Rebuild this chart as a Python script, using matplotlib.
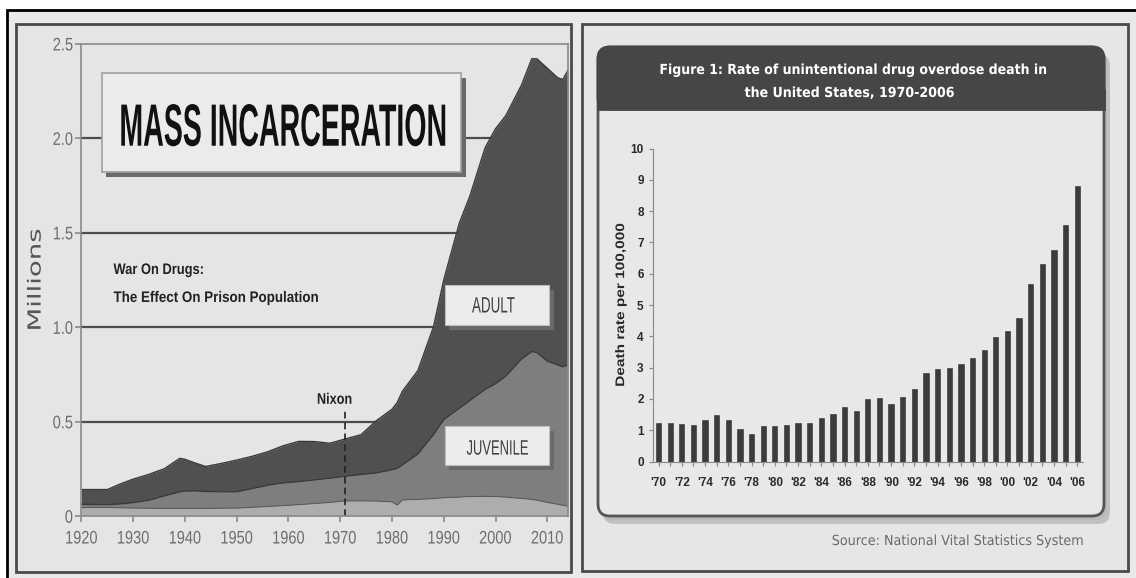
import numpy as np
import matplotlib
matplotlib.use("Agg")
import matplotlib.pyplot as plt
from matplotlib.patches import Rectangle, FancyBboxPatch
from matplotlib.transforms import IdentityTransform, Affine2D
import matplotlib.patheffects as pe

# ---- left chart: prison population (millions), boundaries of the stacked layers
years = [1920, 1925, 1928, 1930, 1933, 1936, 1939, 1940, 1942, 1944, 1947, 1950, 1953,
         1956, 1959, 1962, 1965, 1968, 1971, 1974, 1977, 1980, 1981, 1982, 1985, 1988,
         1990, 1993, 1995, 1998, 2000, 2002, 2005, 2007, 2008, 2010, 2012, 2013, 2014]
total = [0.14, 0.14, 0.175, 0.195, 0.22, 0.25, 0.305, 0.30, 0.28, 0.262, 0.278, 0.296, 0.316,
         0.34, 0.372, 0.395, 0.394, 0.385, 0.408, 0.43, 0.505, 0.565, 0.60, 0.66, 0.77, 1.0,
         1.25, 1.55, 1.69, 1.95, 2.05, 2.12, 2.28, 2.42, 2.42, 2.37, 2.32, 2.31, 2.36]
middle = [0.062, 0.06, 0.065, 0.071, 0.083, 0.106, 0.128, 0.132, 0.133, 0.13, 0.128, 0.128, 0.145,
          0.163, 0.175, 0.182, 0.191, 0.2, 0.21, 0.22, 0.228, 0.245, 0.252, 0.27, 0.328, 0.43,
          0.51, 0.57, 0.61, 0.67, 0.70, 0.74, 0.83, 0.87, 0.865, 0.82, 0.80, 0.79, 0.80]
lower = [0.045, 0.045, 0.043, 0.042, 0.041, 0.04, 0.04, 0.04, 0.04, 0.04, 0.041, 0.042, 0.046,
         0.05, 0.055, 0.06, 0.066, 0.072, 0.08, 0.08, 0.079, 0.075, 0.058, 0.085, 0.088, 0.092,
         0.097, 0.1, 0.103, 0.104, 0.103, 0.1, 0.093, 0.088, 0.084, 0.072, 0.062, 0.057, 0.052]
nixon_year = 1971
decade_ticks = [1920, 1930, 1940, 1950, 1960, 1970, 1980, 1990, 2000, 2010]
million_ticks = [0, 0.5, 1.0, 1.5, 2.0, 2.5]
million_labels = ["0", "0.5", "1.0", "1.5", "2.0", "2.5"]

# ---- right chart: overdose death rate per 100,000
od_years = list(range(1970, 2007))
od_rates = [1.24, 1.24, 1.2, 1.16, 1.32, 1.47, 1.34, 1.04, 0.88, 1.14, 1.12, 1.16, 1.24,
            1.24, 1.39, 1.52, 1.74, 1.62, 1.99, 2.04, 1.83, 2.07, 2.33, 2.84, 2.96, 2.99,
            3.12, 3.32, 3.56, 3.99, 4.18, 4.57, 5.68, 6.3, 6.77, 7.56, 8.81]

W, H = 1136, 578
SANS = "Liberation Sans"


class Stretch(pe.AbstractPathEffect):
    """Make glyphs taller (condensed look) without touching their advance widths."""

    def __init__(self, sy=1.0, about="middle"):
        super().__init__()
        self.sy = sy
        self.about = about

    def draw_path(self, renderer, gc, tpath, affine, rgbFace=None):
        if self.about == "baseline":
            cy = 0.0
        else:
            ext = tpath.get_extents()
            cy = (ext.y0 + ext.y1) / 2
        st = Affine2D().translate(0, -cy).scale(1, self.sy).translate(0, cy)
        renderer.draw_path(gc, tpath, st + affine, rgbFace)


fig = plt.figure(figsize=(W / 100, H / 100), dpi=100, facecolor="white")


def px_rect(x0, y0, x1, y1):
    # pixel box given from the top-left corner
    return x0, H - y1, x1 - x0, y1 - y0


def fig_box(x0, y0, x1, y1, **kw):
    x, y, w, h = px_rect(x0, y0, x1, y1)
    p = Rectangle((x, y), w, h, transform=IdentityTransform(), **kw)
    fig.add_artist(p)
    return p


def fig_round(x0, y0, x1, y1, r, **kw):
    x, y, w, h = px_rect(x0, y0, x1, y1)
    p = FancyBboxPatch((x, y), w, h, boxstyle=f"round,pad=0,rounding_size={r}",
                       transform=IdentityTransform(), **kw)
    fig.add_artist(p)
    return p


# background and panel frames
fig_box(7, 10, W + 5, H + 5, facecolor="#e9e9e9", edgecolor="black", lw=2, zorder=-10)
fig_box(16, 24, 571, 572, facecolor="#e5e5e5", edgecolor="#4a4a4a", lw=2, zorder=-9)
fig_box(582, 24, 1128, 571, facecolor="#e6e6e6", edgecolor="#4a4a4a", lw=2, zorder=-9)

# card on the right with shadow
fig_round(603, 54, 1110, 524, 12, facecolor="#9c9c9c", edgecolor="none", alpha=0.5, zorder=-8)
fig_round(600, 50, 1107, 520, 12, facecolor="#b5b5b5", edgecolor="none", alpha=0.6, zorder=-8)
fig_round(598, 47, 1104, 516, 12, facecolor="#e8e8e8", edgecolor="#555555", lw=2, zorder=-7)
fig_round(598, 47, 1104, 109, 12, facecolor="#464646", edgecolor="#464646", lw=2, zorder=-6)
fig_box(598, 90, 1104, 109, facecolor="#464646", edgecolor="#464646", lw=2, zorder=-6)

# ================= left chart =================
ax = fig.add_axes([81.4 / W, 1 - 516 / H, 486.6 / W, 472.3 / H])
ax.set_facecolor("none")
ax.set_xlim(1920, 2014)
ax.set_ylim(0, 2.5)

for g in million_ticks[1:-1]:
    ax.axhline(g, color="#4d4d4d", lw=1.6, zorder=0.5)

ax.fill_between(years, middle, total, color="#505050", zorder=1, lw=0)
ax.fill_between(years, lower, middle, color="#7e7e7e", zorder=1.1, lw=0)
ax.fill_between(years, 0, lower, color="#adadad", zorder=1.2, lw=0)
ax.plot(years, total, color="#3a3a3a", lw=1.0, zorder=1.5)
ax.plot(years, middle, color="#3a3a3a", lw=1.0, zorder=1.5)
ax.plot(years, lower, color="#5a5a5a", lw=0.8, zorder=1.5)

ax.plot([nixon_year, nixon_year], [0, 0.555], color="#222222", lw=1.2,
        ls=(0, (4, 2.5)), zorder=2)

shadow = [pe.withSimplePatchShadow(offset=(3, -3.5), shadow_rgbFace="#6a6a6a", alpha=1.0)]
ax.add_patch(Rectangle((1923.9, 1.822), 69.5, 0.523, facecolor="#ebebeb", edgecolor="#a0a0a0",
                       lw=1.2, zorder=3, path_effects=shadow))
ax.add_patch(Rectangle((1990.3, 1.012), 20.1, 0.21, facecolor="#ececec", edgecolor="#bdbdbd",
                       lw=0.8, zorder=3, path_effects=shadow))
ax.add_patch(Rectangle((1990.3, 0.268), 20.1, 0.21, facecolor="#ececec", edgecolor="#bdbdbd",
                       lw=0.8, zorder=3, path_effects=shadow))

t_title = ax.text(1958.9, 1.96, "MASS INCARCERATION", ha="center", va="baseline",
                  fontweight="bold", family=SANS, color="#111111", zorder=4)
t_adult = ax.text(1999.6, 1.109, "ADULT", ha="center", va="center",
                  family=SANS, color="#404040", zorder=4)
t_juv = ax.text(2000.4, 0.355, "JUVENILE", ha="center", va="center",
                family=SANS, color="#404040", zorder=4)
t_nixon = ax.text(1968.9, 0.594, "Nixon", ha="center", va="baseline",
                  fontweight="bold", family=SANS, color="#222222", zorder=3)
t_war = ax.text(1926.2, 1.281, "War On Drugs:", ha="left", va="baseline",
                fontweight="bold", family=SANS, color="#222222", zorder=4)
t_eff = ax.text(1926.2, 1.133, "The Effect On Prison Population", ha="left", va="baseline",
                fontweight="bold", family=SANS, color="#222222", zorder=4)

ax.set_xticks(decade_ticks)
ax.set_yticks(million_ticks)
ax.set_yticklabels(million_labels)
ax.tick_params(axis="both", colors="#8a8a8a", labelcolor="#6e6e6e", labelsize=10.5,
               length=4, width=1.2)
ax.tick_params(axis="x", pad=7)
ax.tick_params(axis="y", pad=2)
for lab in ax.get_xticklabels() + ax.get_yticklabels():
    lab.set_family(SANS)
    lab.set_path_effects([Stretch(1.25)])
for s in ax.spines.values():
    s.set_color("#8a8a8a")
    s.set_linewidth(1.2)
ax.set_ylabel("Millions", color="#555555", family="DejaVu Sans")
ax.yaxis.label.set_va("center")
ax.yaxis.set_label_coords(-0.093, 0.5)

# ================= right chart =================
ax2 = fig.add_axes([652.7 / W, 1 - 461.5 / H, 430.3 / W, 313 / H])
ax2.set_facecolor("none")
ax2.bar(od_years, od_rates, width=0.45, color="#3b3b3b", edgecolor="#2e2e2e", lw=0.4)
ax2.set_xlim(1969.5, 2006.5)
ax2.set_ylim(0, 10)
ax2.set_yticks(range(0, 11))
ax2.set_xticks(od_years[::2])
ax2.set_xticklabels([f"'{y % 100:02d}" for y in od_years[::2]])
ax2.set_xticks(od_years, minor=True)
ax2.tick_params(axis="both", which="both", colors="#8a8a8a", labelcolor="#2a2a2a",
                labelsize=8.5, length=3, width=0.9)
ax2.tick_params(axis="x", pad=8)
for lab in ax2.get_xticklabels() + ax2.get_yticklabels():
    lab.set_family(SANS)
    lab.set_fontweight("bold")
for side in ["top", "right"]:
    ax2.spines[side].set_visible(False)
for side in ["left", "bottom"]:
    ax2.spines[side].set_color("#8a8a8a")
ax2.set_ylabel("Death rate per 100,000", fontweight="bold", family=SANS, color="#2a2a2a")
ax2.yaxis.label.set_va("center")
ax2.yaxis.set_label_coords(-0.074, 0.5)

t_fig1 = fig.text(852 / W, 1 - 74 / H, "Figure 1: Rate of unintentional drug overdose death in",
                  ha="center", va="baseline", fontweight="bold", family="DejaVu Sans",
                  color="white")
t_fig2 = fig.text(849 / W, 1 - 97 / H, "the United States, 1970-2006", ha="center",
                  va="baseline", fontweight="bold", family="DejaVu Sans", color="white")
t_src = fig.text(1085 / W, 1 - 545 / H, "Source: National Vital Statistics System", ha="right",
                 va="baseline", family="DejaVu Sans", color="#6a6a6a")

# size each label to the width it takes in the original, then stretch it to its cap height
# (at 100 dpi a cap height in px is about the font size in pt)
fig.canvas.draw()
r = fig.canvas.get_renderer()
fits = [(t_title, 326, 43, "baseline"), (t_adult, 43, 16, "middle"),
        (t_juv, 62, 15, "middle"), (t_nixon, 35, 11, "baseline"),
        (t_war, 91, 11, "baseline"), (t_eff, 205, 11, "baseline"),
        (t_fig1, 388, 10, "baseline"), (t_fig2, 210, 10, "baseline"),
        (t_src, 252, 10, "baseline"), (ax.yaxis.label, 103, 13, "middle"),
        (ax2.yaxis.label, 164, 9, "middle")]
for t, width, cap, about in fits:
    t.set_fontsize(10)
    ext = t.get_window_extent(r)
    length = max(ext.width, ext.height)  # rotated labels run vertically
    size = 10 * width / length
    t.set_fontsize(size)
    t.set_path_effects([Stretch(cap / size, about)])

fig.savefig("out.png", dpi=100, facecolor="white")
